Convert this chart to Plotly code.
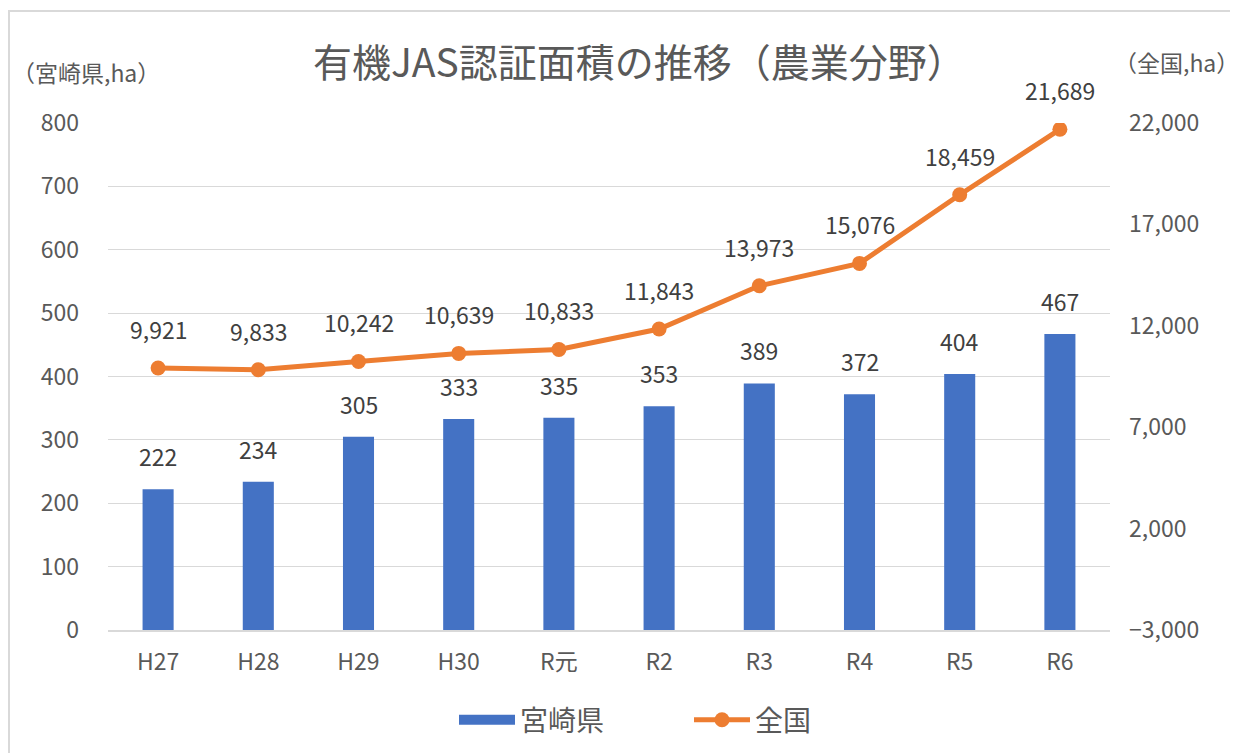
import plotly.graph_objects as go

categories = ["H27", "H28", "H29", "H30", "R元", "R2", "R3", "R4", "R5", "R6"]
miyazaki = [222, 234, 305, 333, 335, 353, 389, 372, 404, 467]
national = [9921, 9833, 10242, 10639, 10833, 11843, 13973, 15076, 18459, 21689]

FONT = "Noto Sans CJK JP"
GRAY = "#595959"
LABEL = "#404040"
BLUE = "#4472C4"
ORANGE = "#ED7D31"
GRID = "#D9D9D9"

# page offset of the plot div (browser body margin)
OFF = 8

fig = go.Figure()
fig.add_trace(go.Bar(x=categories, y=miyazaki, name="宮崎県", marker_color=BLUE,
                     marker_line_width=0, yaxis="y", showlegend=False))
fig.add_trace(go.Scatter(x=[None], y=[None], name="宮崎県", mode="lines",
                         line=dict(color=BLUE, width=14), yaxis="y", hoverinfo="skip"))
fig.add_trace(go.Scatter(x=categories, y=national, name="全国", mode="lines+markers",
                         line=dict(color=ORANGE, width=5),
                         marker=dict(color=ORANGE, size=15), yaxis="y2"))

annotations = []
for c, v in zip(categories, miyazaki):
    annotations.append(dict(x=c, y=v, xref="x", yref="y", text=str(v), showarrow=False,
                            yanchor="bottom", yshift=14,
                            font=dict(family=FONT, size=23, color=LABEL)))
for c, v in zip(categories, national):
    annotations.append(dict(x=c, y=v, xref="x", yref="y2", text=f"{v:,}", showarrow=False,
                            yanchor="bottom", yshift=20,
                            font=dict(family=FONT, size=23, color=LABEL)))

W = 1238 - OFF
H = 753 - OFF
# plot area in page pixels: x 108..1110, y 123..630
L = 108 - OFF
T = 123 - OFF
R = W - (1110 - OFF)
B = H - (630 - OFF)
ph = H - T - B
pw = W - L - R

def px_x(p):
    return (p - OFF - L) / pw

def px_y(p):
    return 1 - (p - OFF - T) / ph

annotations.append(dict(x=px_x(639), y=px_y(60), xref="paper", yref="paper",
                        text="有機JAS認証面積の推移（農業分野）", showarrow=False,
                        xanchor="center", yanchor="middle",
                        font=dict(family=FONT, size=39, color=GRAY)))
annotations.append(dict(x=px_x(10), y=px_y(72), xref="paper", yref="paper",
                        text="（宮崎県,ha）", showarrow=False,
                        xanchor="left", yanchor="middle",
                        font=dict(family=FONT, size=23, color=GRAY)))
annotations.append(dict(x=px_x(1112), y=px_y(62), xref="paper", yref="paper",
                        text="（全国,ha）", showarrow=False,
                        xanchor="left", yanchor="middle",
                        font=dict(family=FONT, size=23, color=GRAY)))

fig.update_layout(
    width=W, height=H,
    margin=dict(l=L, r=R, t=T, b=B, autoexpand=False),
    paper_bgcolor="white", plot_bgcolor="white",
    font=dict(family=FONT, size=23, color=GRAY),
    bargap=0.69,
    showlegend=True,
    legend=dict(orientation="h", x=px_x(454), xanchor="left", y=px_y(720), yanchor="middle",
                font=dict(family=FONT, size=28, color=GRAY), itemwidth=56,
                entrywidth=164, entrywidthmode="pixels", traceorder="normal"),
    xaxis=dict(range=[-0.5, 9.5], showgrid=False, showline=True, linecolor=GRID,
               linewidth=1.5, ticks="", ticklabelstandoff=11,
               tickfont=dict(size=23, color=GRAY)),
    yaxis=dict(range=[0, 800], dtick=100, showgrid=True, gridcolor=GRID, gridwidth=1.3,
               zeroline=False, showline=False, ticks="", ticklabelstandoff=28,
               tickfont=dict(size=23, color=GRAY)),
    yaxis2=dict(range=[-3000, 22000], tick0=-3000, dtick=5000, tickformat=",d",
                overlaying="y", side="right", showgrid=False, zeroline=False,
                showline=False, ticks="", ticklabelstandoff=18,
                tickfont=dict(size=23, color=GRAY)),
    annotations=annotations,
    shapes=[dict(type="rect", xref="paper", yref="paper",
                 x0=px_x(9), x1=px_x(1300), y0=px_y(820), y1=px_y(11),
                 line=dict(color=GRID, width=2), layer="below")],
)

fig.write_html("out.html")
